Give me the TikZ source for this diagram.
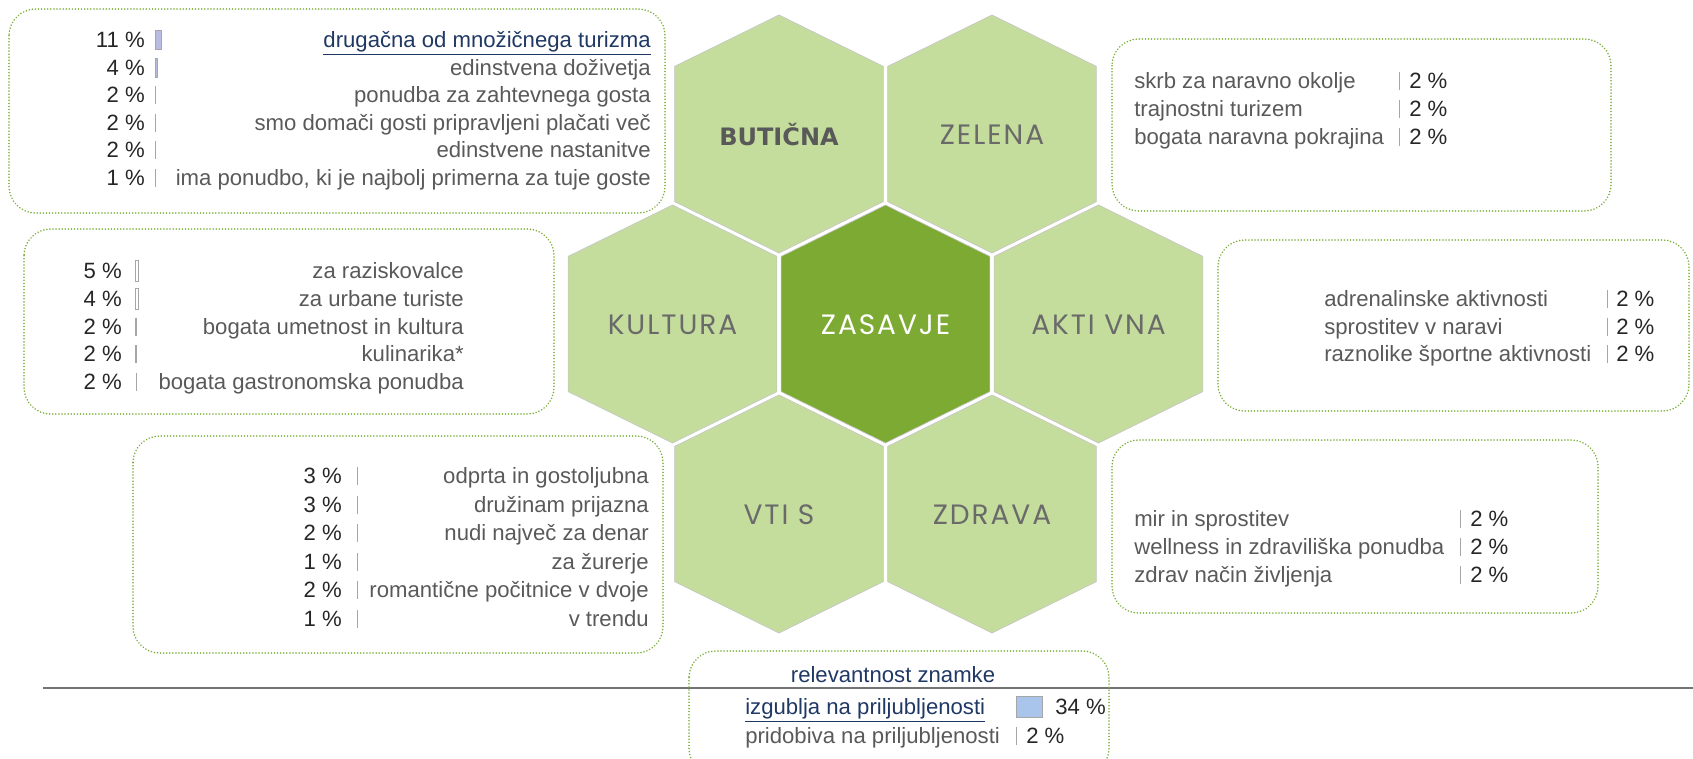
\documentclass[tikz,border=0pt]{standalone}
\usepackage{fontspec}
\setmainfont{Liberation Sans}
\newfontfamily\hexfont[LetterSpace=7]{Poppins}
\newfontfamily\boldfont{DejaVu Sans}
\definecolor{hexlight}{HTML}{C4DD9C}
\definecolor{hexdark}{HTML}{7DAA33}
\definecolor{dotgreen}{HTML}{78AC35}
\definecolor{txtgray}{HTML}{595959}
\definecolor{pcdark}{HTML}{262626}
\definecolor{navy}{HTML}{1F3864}
\definecolor{barfill}{HTML}{B7BCE3}
\definecolor{keyblue}{HTML}{A9C5EB}

\begin{document}
\begin{tikzpicture}[x=0.75pt,y=-0.75pt,
  hexcell/.style={fill=hexlight,draw=gray!45,line width=0.5pt},
  hexlabel/.style={font=\hexfont\fontsize{21}{23}\selectfont,text=txtgray!90},
  panel/.style={draw=dotgreen,line width=1.3pt,dash pattern=on 0.01pt off 2.3pt,line cap=round,rounded corners=20pt},
  item/.style={font=\fontsize{16.6}{18}\selectfont,text=txtgray,inner sep=0pt,text height=1.6ex,text depth=.4ex,yshift=-2.6pt},
  pct/.style={item,text=pcdark},
  tick/.style={draw=gray!70,line width=0.6pt}]
  \useasboundingbox (0,0) rectangle (1693,758);

  % Hexagons
  \foreach \cx/\cy in {779/134,992/134,672.5/324,1098.5/324,779/514,992/514}
    \draw[hexcell] (\cx,\cy-119) -- (\cx+104.4,\cy-67.6) -- (\cx+104.4,\cy+67.6)
      -- (\cx,\cy+119) -- (\cx-104.4,\cy+67.6) -- (\cx-104.4,\cy-67.6) -- cycle;
  \draw[hexcell,fill=hexdark] (885.5,205) -- (989.9,256.4) -- (989.9,391.6)
    -- (885.5,443) -- (781.1,391.6) -- (781.1,256.4) -- cycle;

  \node[font=\boldfont\bfseries\fontsize{18}{20}\selectfont,text=txtgray] (butik) at (779,135) {BUTIČNA};
  \node[hexlabel] (zelena) at (992,135) {ZELENA};
  \node[hexlabel] (kultura) at (672.5,325) {KULTURA};
  \node[hexlabel,text=white] (zasavje) at (885.5,325) {ZASAVJE};
  \node[hexlabel] (aktivna) at (1098.5,325) {AKTI VNA};
  \node[hexlabel] (vtis) at (779,515) {VTI S};
  \node[hexlabel] (zdrava) at (992,515) {ZDRAVA};

  % Butična
  \draw[panel] (9,9) rectangle (665,213);
  \node[item,anchor=east,text=navy] (but1) at (651,40) {\underline{drugačna od množičnega turizma}};
  \node[pct,anchor=east] (butp1) at (145,40) {11~\%};
  \draw[tick,fill=barfill] (155,30) rectangle (161,49);
  \draw[tick,fill=barfill] (155,58) rectangle (157.5,77);
  \foreach \i/\y/\pc/\lab in {2/67.5/4/{edinstvena doživetja},3/95/2/{ponudba za zahtevnega gosta},
      4/122.5/2/{smo domači gosti pripravljeni plačati več},5/150/2/{edinstvene nastanitve},
      6/177.5/1/{ima ponudbo, ki je najbolj primerna za tuje goste}}{
    \node[pct,anchor=east] (butp\i) at (145,\y) {\pc~\%};
    \node[item,anchor=east] (but\i) at (651,\y) {\lab};
  }
  \foreach \y in {95,122.5,150,177.5} \draw[tick] (155,\y-9) -- (155,\y+9);

  % Zelena
  \draw[panel] (1112,39) rectangle (1611,211);
  \foreach \i/\y/\lab in {1/81/{skrb za naravno okolje},2/109/{trajnostni turizem},3/137/{bogata naravna pokrajina}}{
    \node[item,anchor=west] (zel\i) at (1134,\y) {\lab};
    \node[pct,anchor=west] (zelp\i) at (1409,\y) {2~\%};
    \draw[tick] (1399,\y-9) -- (1399,\y+9);
  }

  % Kultura
  \draw[panel] (24,229) rectangle (554,414);
  \foreach \i/\y/\pc/\lab in {1/271/5/{za raziskovalce},2/299/4/{za urbane turiste},3/326.5/2/{bogata umetnost in kultura},
      4/354/2/{kulinarika*},5/382/2/{bogata gastronomska ponudba}}{
    \node[pct,anchor=east] (kulp\i) at (122,\y) {\pc~\%};
    \node[item,anchor=east] (kul\i) at (464,\y) {\lab};
  }
  \draw[tick,fill=white] (135,260) rectangle (138.5,281);
  \draw[tick,fill=white] (135,288) rectangle (138.5,309);
  \draw[tick,line width=1.1pt] (136,317.5) -- (136,335.5);
  \draw[tick,line width=1.1pt] (136,345) -- (136,363);
  \draw[tick] (136,373) -- (136,391);

  % Aktivna
  \draw[panel] (1218,240) rectangle (1689,411);
  \foreach \i/\y/\lab in {1/299/{adrenalinske aktivnosti},2/326.5/{sprostitev v naravi},3/354/{raznolike športne aktivnosti}}{
    \node[item,anchor=west] (akt\i) at (1324,\y) {\lab};
    \node[pct,anchor=west] (aktp\i) at (1616,\y) {2~\%};
    \draw[tick] (1607,\y-9) -- (1607,\y+9);
  }

  % Vtis
  \draw[panel] (133,436) rectangle (663,653);
  \foreach \i/\y/\pc/\lab in {1/476/3/{odprta in gostoljubna},2/504.5/3/{družinam prijazna},3/533/2/{nudi največ za denar},
      4/561.5/1/{za žurerje},5/590/2/{romantične počitnice v dvoje},6/618.5/1/{v trendu}}{
    \node[pct,anchor=east] (vtip\i) at (342,\y) {\pc~\%};
    \node[item,anchor=east] (vti\i) at (649,\y) {\lab};
    \draw[tick] (357,\y-9) -- (357,\y+9);
  }

  % Zdrava
  \draw[panel] (1112,440) rectangle (1598,613);
  \foreach \i/\y/\lab in {1/519/{mir in sprostitev},2/547/{wellness in zdraviliška ponudba},3/575/{zdrav način življenja}}{
    \node[item,anchor=west] (zdr\i) at (1134,\y) {\lab};
    \node[pct,anchor=west] (zdrp\i) at (1470,\y) {2~\%};
    \draw[tick] (1460,\y-9) -- (1460,\y+9);
  }

  % Relevantnost
  \draw[line width=2.2pt,gray!90!black] (43,688) -- (1693,688);
  \draw[panel] (689,651) rectangle (1109,775);
  \node[item,text=navy] (rel) at (893,675) {relevantnost znamke};
  \node[item,anchor=west,text=navy] (rel1) at (745,707) {\underline{izgublja na priljubljenosti}};
  \draw[tick,fill=keyblue] (1016,696) rectangle (1042,717);
  \node[pct,anchor=west] (relp1) at (1055,707) {34~\%};
  \node[item,anchor=west] (rel2) at (745,736) {pridobiva na priljubljenosti};
  \draw[tick] (1016,727) -- (1016,745);
  \node[pct,anchor=west] (relp2) at (1026,736) {2~\%};
\end{tikzpicture}
\end{document}
